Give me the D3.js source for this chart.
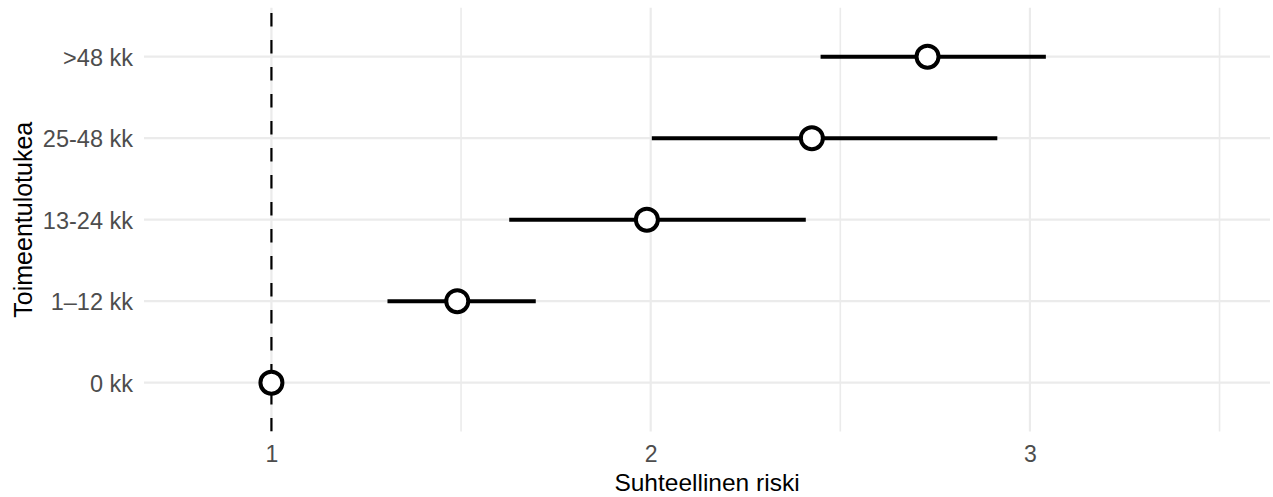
<!DOCTYPE html>
<html>
<head>
<meta charset="utf-8">
<script src="https://cdn.jsdelivr.net/npm/d3@7"></script>
<style>
  html, body { margin: 0; padding: 0; background: #ffffff; }
  svg { display: block; }
  text { font-family: Arial, "Liberation Sans", Helvetica, sans-serif; }
</style>
</head>
<body>
<svg id="chart" width="1273" height="497"></svg>
<script>
// ---- data ----
const categories = ["0 kk", "1\u201312 kk", "13-24 kk", "25-48 kk", ">48 kk"];
const estimate = [1.00, 1.49, 1.99, 2.425, 2.73];
const lower    = [1.00, 1.306, 1.627, 2.003, 2.448];
const upper    = [1.00, 1.697, 2.409, 2.914, 3.042];
const xTicks = [1, 2, 3];
const xMinor = [1.5, 2.5, 3.5];
const xDomain = [0.664, 3.633];
const refValue = 1;
const xTitle = "Suhteellinen riski";
const yTitle = "Toimeentulotukea";

const rows = categories.map((c, i) => ({ cat: c, est: estimate[i], lo: lower[i], hi: upper[i] }));

// ---- layout ----
const panel = { left: 144, right: 1270, top: 7.8, bottom: 431.6 };
const svg = d3.select("#chart");

const x = d3.scaleLinear().domain(xDomain).range([panel.left, panel.right]);
const y = d3.scalePoint().domain(categories).range([panel.bottom, panel.top]).padding(0.6);

const defs = svg.append("defs");
defs.append("clipPath").attr("id", "clip")
  .append("rect")
  .attr("x", panel.left).attr("y", panel.top)
  .attr("width", panel.right - panel.left).attr("height", panel.bottom - panel.top);

const grid = svg.append("g");
// minor vertical
grid.selectAll("line.minor").data(xMinor).enter().append("line")
  .attr("x1", d => x(d)).attr("x2", d => x(d))
  .attr("y1", panel.top).attr("y2", panel.bottom)
  .attr("stroke", "#ebebeb").attr("stroke-width", 1.6);
// major vertical
grid.selectAll("line.majx").data(xTicks).enter().append("line")
  .attr("x1", d => x(d)).attr("x2", d => x(d))
  .attr("y1", panel.top).attr("y2", panel.bottom)
  .attr("stroke", "#ebebeb").attr("stroke-width", 2.2);
// major horizontal
grid.selectAll("line.majy").data(categories).enter().append("line")
  .attr("x1", panel.left).attr("x2", panel.right)
  .attr("y1", d => y(d)).attr("y2", d => y(d))
  .attr("stroke", "#ebebeb").attr("stroke-width", 2.2);

const plot = svg.append("g").attr("clip-path", "url(#clip)");

// reference dashed line (drawn bottom -> top)
plot.append("line")
  .attr("x1", x(refValue)).attr("x2", x(refValue))
  .attr("y1", panel.bottom).attr("y2", panel.top - 20)
  .attr("stroke", "#000").attr("stroke-width", 2.2)
  .attr("stroke-dasharray", "13.5 13.5");

// error bars
plot.selectAll("line.err").data(rows.filter(d => d.hi > d.lo)).enter().append("line")
  .attr("x1", d => x(d.lo)).attr("x2", d => x(d.hi))
  .attr("y1", d => y(d.cat)).attr("y2", d => y(d.cat))
  .attr("stroke", "#000").attr("stroke-width", 4);

// points
plot.selectAll("circle.pt").data(rows).enter().append("circle")
  .attr("cx", d => x(d.est)).attr("cy", d => y(d.cat))
  .attr("r", 11)
  .attr("fill", "#fff").attr("stroke", "#000").attr("stroke-width", 4);

// axes tick labels
const xAxis = d3.axisBottom(x).tickValues(xTicks).tickSize(0).tickPadding(0).tickFormat(d3.format("d"));
const gx = svg.append("g").attr("transform", `translate(0,${panel.bottom})`).call(xAxis);
gx.attr("font-size", null);
gx.select(".domain").remove();
gx.selectAll("text")
  .attr("y", 30.5).attr("dy", null)
  .style("font-size", "23px").attr("fill", "#4d4d4d")
  .attr("font-family", "Arial, 'Liberation Sans', sans-serif");

const yAxis = d3.axisLeft(y).tickSize(0).tickPadding(11);
const gy = svg.append("g").attr("transform", `translate(${panel.left},0)`).call(yAxis);
gy.attr("font-size", null);
gy.select(".domain").remove();
gy.selectAll("text")
  .style("font-size", "23.5px").attr("fill", "#4d4d4d")
  .attr("dy", "0.36em")
  .attr("font-family", "Arial, 'Liberation Sans', sans-serif");

// axis titles
svg.append("text")
  .attr("x", (panel.left + panel.right) / 2).attr("y", 491)
  .attr("text-anchor", "middle").attr("font-size", 24.5).attr("fill", "#000")
  .text(xTitle);

svg.append("text")
  .attr("transform", `translate(32,${(panel.top + panel.bottom) / 2}) rotate(-90)`)
  .attr("text-anchor", "middle").attr("font-size", 25).attr("fill", "#000")
  .text(yTitle);
</script>
</body>
</html>
